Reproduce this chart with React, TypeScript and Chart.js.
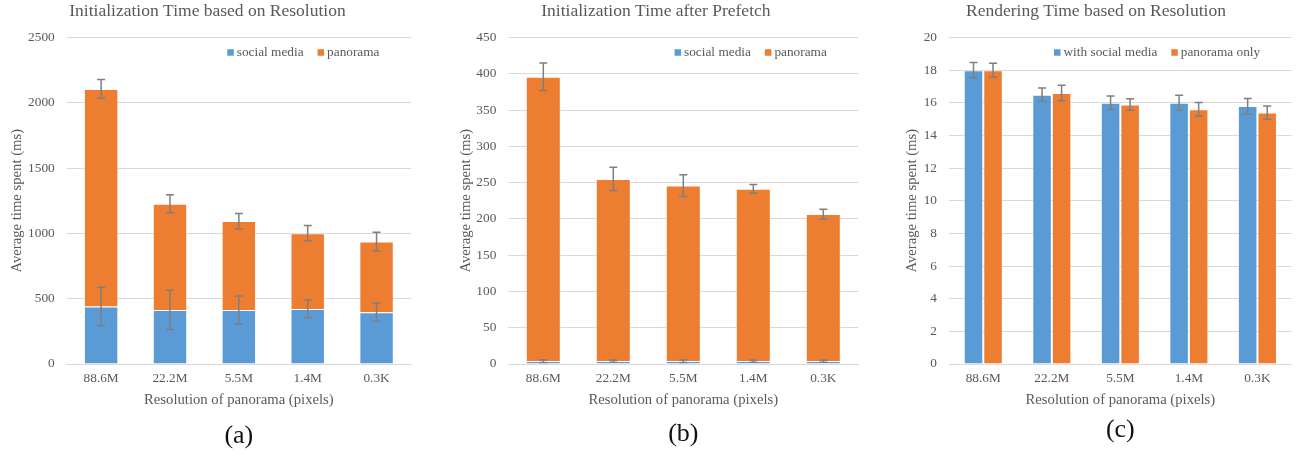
import React, { useEffect, useRef } from "react";
import { Chart, registerables } from "chart.js";

Chart.register(...registerables);

// ---------- data ----------
const categories = ["88.6M", "22.2M", "5.5M", "1.4M", "0.3K"];

const initSocial = [440, 414, 414, 422, 396];
const initSocialErr = [147, 150, 107, 68, 69];
const initPanorama = [1666, 813, 680, 580, 542];
const initPanoramaErr = [72, 68, 58, 58, 70];

const prefetchSocial = [4, 4, 4, 4, 4];
const prefetchSocialErr = [2, 1.5, 2, 1.5, 1.5];
const prefetchPanorama = [392, 251, 242, 237.5, 202.6];
const prefetchPanoramaErr = [19, 16, 15, 6, 6.7];

const renderSocial = [18, 16.5, 16.0, 16.0, 15.8];
const renderSocialErr = [0.47, 0.4, 0.41, 0.47, 0.47];
const renderPanorama = [18, 16.6, 15.9, 15.6, 15.4];
const renderPanoramaErr = [0.42, 0.48, 0.35, 0.42, 0.41];

// ---------- styles ----------
const FONT = "'Liberation Serif', 'Times New Roman', serif";
const GRAY = "#595959";
const GRID = "#d9d9d9";
const BLUE = "#5b9bd5";
const ORANGE = "#ed7d31";
const ERR = "#7f7f7f";

function errorBarPlugin() {
  return {
    id: "errorBars",
    afterDatasetsDraw(chart: any) {
      const ctx = chart.ctx;
      const y = chart.scales.y;
      chart.data.datasets.forEach((ds: any, i: number) => {
        const errs: number[] | undefined = ds.errors;
        if (!errs) return;
        const meta = chart.getDatasetMeta(i);
        meta.data.forEach((el: any, j: number) => {
          const e = errs[j];
          const v = y.getValueForPixel(el.y);
          const top = y.getPixelForValue(v + e);
          const bot = y.getPixelForValue(v - e);
          ctx.save();
          ctx.strokeStyle = ERR;
          ctx.lineWidth = 1.5;
          ctx.beginPath();
          ctx.moveTo(el.x, top);
          ctx.lineTo(el.x, bot);
          ctx.moveTo(el.x - 4, top);
          ctx.lineTo(el.x + 4, top);
          ctx.moveTo(el.x - 4, bot);
          ctx.lineTo(el.x + 4, bot);
          ctx.stroke();
          ctx.restore();
        });
      });
    },
  };
}

function boxLegendPlugin(offsetRight: number, offsetY: number) {
  return {
    id: "boxLegend",
    afterDraw(chart: any) {
      const { ctx, chartArea } = chart;
      const items = chart.data.datasets.map((d: any) => ({
        label: d.label,
        color: d.backgroundColor,
      }));
      const box = 6.5;
      const gap = 3;
      const itemGap = 14;
      ctx.save();
      ctx.font = `13.3px ${FONT}`;
      ctx.textBaseline = "middle";
      ctx.textAlign = "left";
      const widths = items.map((it: any) => ctx.measureText(it.label).width);
      let total = 0;
      items.forEach((_: any, k: number) => {
        total += box + gap + widths[k] + (k < items.length - 1 ? itemGap : 0);
      });
      let x = chartArea.right - offsetRight - total;
      const y = chartArea.top + offsetY;
      items.forEach((it: any, k: number) => {
        ctx.fillStyle = it.color;
        ctx.fillRect(x, y - box / 2, box, box);
        x += box + gap;
        ctx.fillStyle = GRAY;
        ctx.fillText(it.label, x, y + 0.5);
        x += widths[k] + itemGap;
      });
      ctx.restore();
    },
  };
}

function captionPlugin(text: string, baseline: number) {
  return {
    id: "caption",
    afterDraw(chart: any) {
      const { ctx, chartArea } = chart;
      ctx.save();
      ctx.font = `26px ${FONT}`;
      ctx.fillStyle = "#111111";
      ctx.textAlign = "center";
      ctx.textBaseline = "alphabetic";
      ctx.fillText(text, (chartArea.left + chartArea.right) / 2, baseline);
      ctx.restore();
    },
  };
}

type Spec = {
  title: string;
  labels: [string, string];
  series: [number[], number[]];
  errors: [number[], number[]];
  stacked: boolean;
  yMax: number;
  yStep: number;
  padL: number;
  padR: number;
  yAxisWidth: number;
  yTitlePad: number;
  caption: string;
  captionY: number;
  catPct: number;
  barPct: number;
};

function buildConfig(s: Spec): any {
  const colors = [BLUE, ORANGE];
  return {
    type: "bar",
    data: {
      labels: categories,
      datasets: s.series.map((d, i) => ({
        label: s.labels[i],
        data: d,
        errors: s.errors[i],
        backgroundColor: colors[i],
        borderColor: "rgba(255,255,255,0.3)",
        borderWidth: 1,
        categoryPercentage: s.catPct,
        barPercentage: s.barPct,
      })),
    },
    options: {
      responsive: false,
      animation: false,
      layout: { padding: { left: s.padL, right: s.padR, top: 0, bottom: 45.2 } },
      plugins: {
        legend: { display: false },
        tooltip: { enabled: false },
        title: {
          display: true,
          text: s.title,
          color: GRAY,
          font: { family: FONT, size: 17.5, weight: "normal", lineHeight: 1 },
          padding: { top: 2.5, bottom: 17.5 },
        },
      },
      scales: {
        x: {
          stacked: s.stacked,
          grid: { display: false, drawTicks: false },
          border: { display: true, color: GRID },
          ticks: { color: GRAY, font: { family: FONT, size: 13.3 }, padding: 7 },
          title: {
            display: true,
            text: "Resolution of panorama (pixels)",
            color: GRAY,
            font: { family: FONT, size: 14.7 },
            padding: 0,
          },
          afterFit: (sc: any) => {
            sc.height = 44.8;
          },
        },
        y: {
          stacked: s.stacked,
          min: 0,
          max: s.yMax,
          ticks: {
            stepSize: s.yStep,
            color: GRAY,
            font: { family: FONT, size: 13.3 },
            padding: 12,
            callback: (v: any) => String(v),
          },
          grid: { color: GRID, drawTicks: false },
          border: { display: false },
          title: {
            display: true,
            text: "Average time spent (ms)",
            color: GRAY,
            font: { family: FONT, size: 14.7 },
            padding: { top: s.yTitlePad, bottom: 0 },
          },
          afterFit: (sc: any) => {
            sc.width = s.yAxisWidth;
          },
        },
      },
    },
    plugins: [errorBarPlugin(), boxLegendPlugin(31.5, 15), captionPlugin(s.caption, s.captionY)],
  };
}

function BarChart({ left, width, spec }: { left: number; width: number; spec: Spec }) {
  const ref = useRef<HTMLCanvasElement>(null);
  useEffect(() => {
    const chart = new Chart(ref.current as HTMLCanvasElement, buildConfig(spec));
    return () => chart.destroy();
  }, []);
  return (
    <canvas
      ref={ref}
      width={width}
      height={454}
      style={{ position: "absolute", left, top: 0, width, height: 454 }}
    />
  );
}

const specA: Spec = {
  title: "Initialization Time based on Resolution",
  labels: ["social media", "panorama"],
  series: [initSocial, initPanorama],
  errors: [initSocialErr, initPanoramaErr],
  stacked: true,
  yMax: 2500,
  yStep: 500,
  padL: 4,
  padR: 4,
  yAxisWidth: 62.7,
  yTitlePad: 3.9,
  caption: "(a)",
  captionY: 443,
  catPct: 0.5,
  barPct: 1,
};

const specB: Spec = {
  title: "Initialization Time after Prefetch",
  labels: ["social media", "panorama"],
  series: [prefetchSocial, prefetchPanorama],
  errors: [prefetchSocialErr, prefetchPanoramaErr],
  stacked: true,
  yMax: 450,
  yStep: 50,
  padL: 3.5,
  padR: 11.7,
  yAxisWidth: 54.8,
  yTitlePad: 3.5,
  caption: "(b)",
  captionY: 441,
  catPct: 0.5,
  barPct: 1,
};

const specC: Spec = {
  title: "Rendering Time based on Resolution",
  labels: ["with social media", "panorama only"],
  series: [renderSocial, renderPanorama],
  errors: [renderSocialErr, renderPanoramaErr],
  stacked: false,
  yMax: 20,
  yStep: 2,
  padL: 5.3,
  padR: 7.3,
  yAxisWidth: 48.7,
  yTitlePad: 3.4,
  caption: "(c)",
  captionY: 437,
  catPct: 0.57,
  barPct: 1,
};

export default function App() {
  return (
    <div
      style={{
        position: "fixed",
        left: 0,
        top: 0,
        width: 1299,
        height: 454,
        background: "#ffffff",
        overflow: "hidden",
      }}
    >
      <BarChart left={0} width={415} spec={specA} />
      <BarChart left={450} width={420} spec={specB} />
      <BarChart left={895} width={404} spec={specC} />
    </div>
  );
}
